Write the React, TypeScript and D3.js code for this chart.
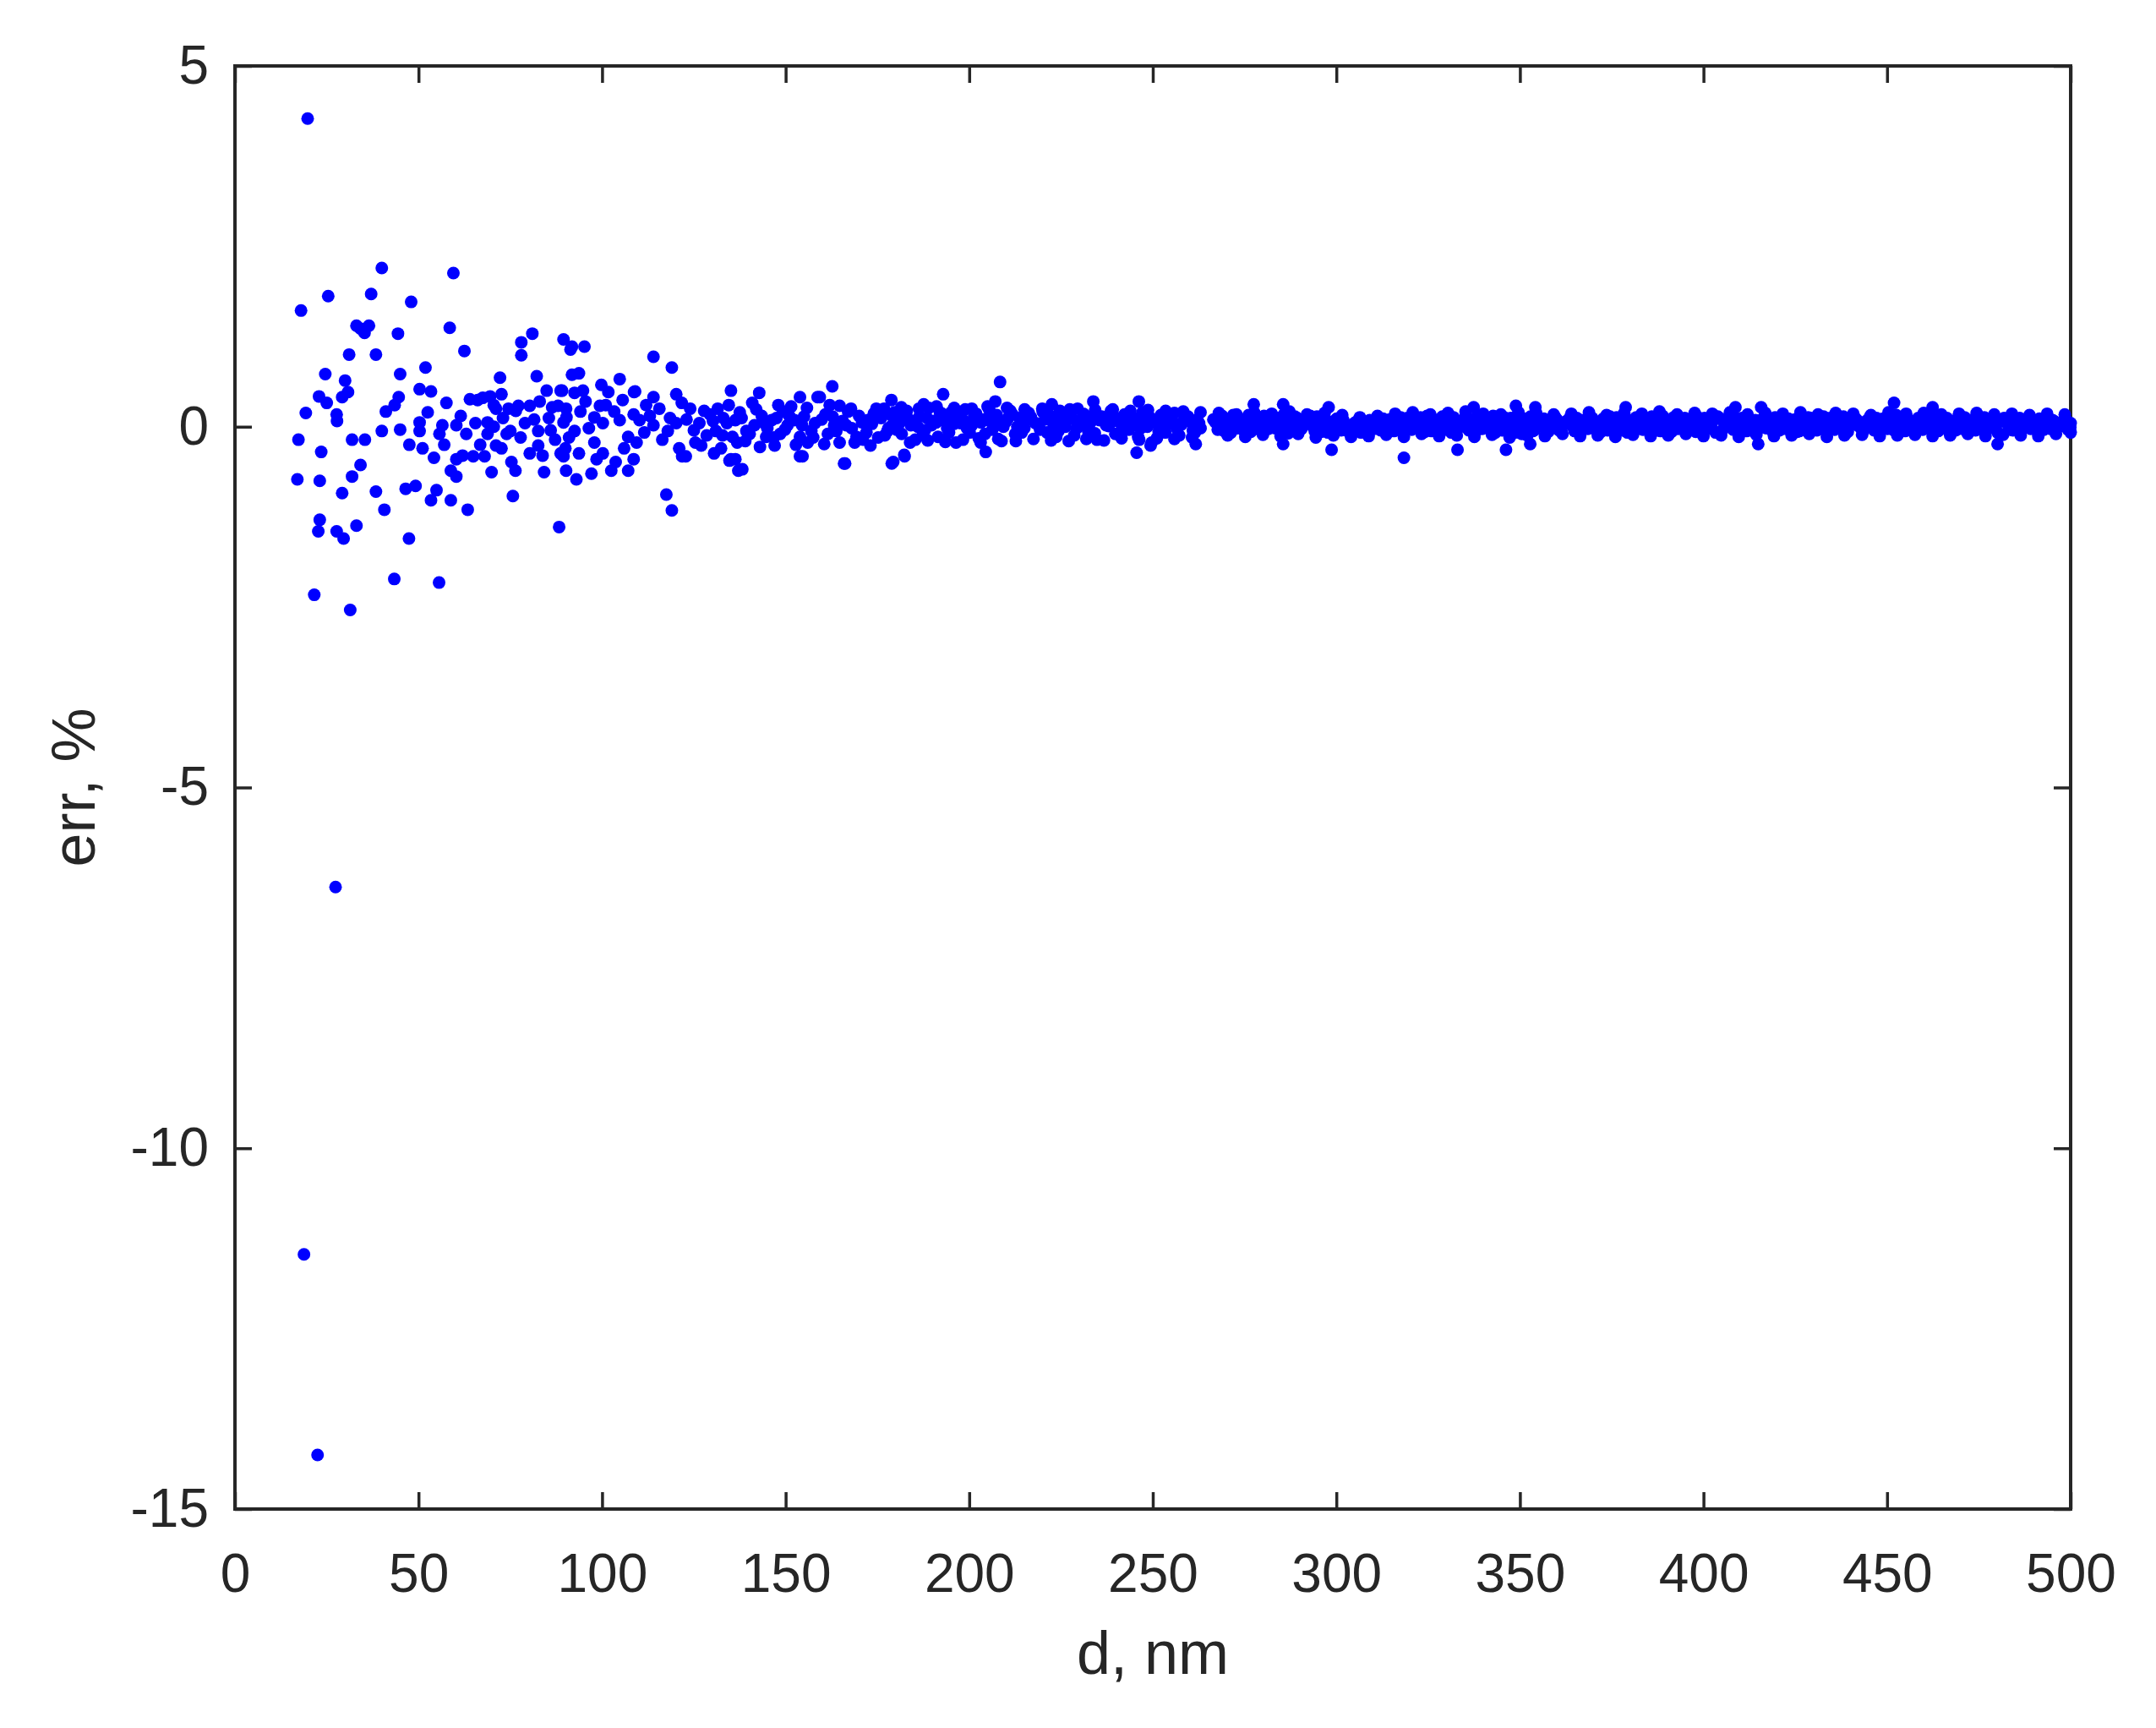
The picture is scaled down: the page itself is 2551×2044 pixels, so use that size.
import React, { useEffect, useRef } from 'react';
import * as d3 from 'd3';

// x ticks and y ticks
const xTicks = [0, 50, 100, 150, 200, 250, 300, 350, 400, 450, 500];
const yTicks = [-15, -10, -5, 0, 5];

// outliers and sparse points, d < 60 nm  [d, err]
const nearPoints: [number, number][] = [
  [19.8, 4.27], [18.8, -11.47], [22.5, -14.25], [27.4, -6.38],
  [40.0, 2.2], [59.5, 2.13], [25.4, 1.81], [37.1, 1.84], [18.0, 1.61], [48.0, 1.73],
  [33.1, 1.4], [36.5, 1.4], [35.3, 1.3], [34.2, 1.36], [44.4, 1.29], [58.5, 1.37],
  [31.1, 1.0], [38.4, 1.0], [24.6, 0.73], [30.0, 0.64], [45.0, 0.73], [51.9, 0.82],
  [29.2, 0.41], [25.0, 0.33], [27.7, 0.17], [19.3, 0.19], [44.6, 0.41], [41.1, 0.21], [43.5, 0.3],
  [50.3, 0.52], [53.4, 0.49], [57.6, 0.33], [17.3, -0.18], [23.5, -0.35], [31.9, -0.18], [35.4, -0.18],
  [40.0, -0.06], [45.0, -0.04], [50.3, 0.06], [50.3, -0.06], [55.7, -0.1], [60.3, 0.02], [51.1, -0.3], [54.2, -0.43],
  [34.2, -0.53], [31.9, -0.69], [17.0, -0.73], [23.1, -0.75], [22.9, 0.42], [27.8, 0.08], [30.8, 0.48],
  [29.2, -0.92], [38.4, -0.9], [46.5, -0.86], [49.2, -0.82], [54.9, -0.88], [53.4, -1.02], [58.8, -1.02],
  [40.7, -1.15], [23.1, -1.29], [22.7, -1.45], [27.7, -1.45], [29.6, -1.55], [33.1, -1.37], [47.4, -1.55],
  [43.4, -2.11], [55.6, -2.16], [21.6, -2.33], [31.4, -2.54],
  [56.5, 0.02], [52.5, 0.2], [47.5, -0.25], [57.0, -0.25],
];

// 60 - 130 nm
const midPoints: [number, number][] = [
  [62.5, 1.05], [81.0, 1.29], [78.0, 1.17], [78.0, 0.99], [89.5, 1.21], [91.4, 1.07],
  [72.2, 0.68], [72.6, 0.45], [66.1, 0.37], [82.2, 0.7], [84.9, 0.5], [88.7, 0.5],
  [77.2, 0.29], [80.3, 0.29], [86.4, 0.27], [71.1, 0.25], [68.8, 0.06], [68.8, -0.1],
  [71.1, -0.26], [75.0, -0.06], [82.6, -0.06], [82.6, -0.26], [87.2, -0.18], [89.5, 0.06],
  [88.0, 0.29], [90.3, 0.13], [91.8, 0.72], [64.0, 0.38], [67.5, 0.4], [69.5, 0.42], [70.5, 0.3],
  [70.5, 0.0], [74.0, -0.1], [62.0, -0.4], [79.0, 0.05], [85.5, 0.12], [83.0, 0.35], [76.5, 0.22],
  [60.3, -0.45], [64.9, -0.41], [68.0, -0.41], [58.8, -0.61], [60.3, -0.69], [69.9, -0.63],
  [72.6, -0.3], [75.3, -0.49], [76.4, -0.61], [80.3, -0.37], [84.2, -0.63], [88.7, -0.37], [90.2, -0.61],
  [63.4, -1.15], [75.7, -0.96], [88.3, -1.39],
  [91.8, 1.11], [95.2, 1.11], [114.0, 0.97], [119.0, 0.82], [93.7, 0.74],
  [104.8, 0.66], [99.8, 0.58], [101.7, 0.48], [89.1, 0.5], [92.5, 0.47], [94.8, 0.5],
  [108.7, 0.48], [114.0, 0.41], [120.2, 0.45], [109.0, 0.49],
  [89.5, -0.41], [93.7, -0.37], [97.1, -0.65], [93.0, -0.73], [102.5, -0.61], [107.1, -0.61],
  [103.7, -0.49], [108.6, -0.45], [97.9, -0.22], [100.2, -0.37], [122.8, -0.41], [127.0, -0.26],
  [117.5, -0.94], [119.0, -1.16], [121.8, -0.41],
  [90.2, 0.25], [94.1, 0.21], [97.9, 0.13], [92.5, -0.06], [96.4, -0.02], [90.0, -0.3],
  [99.4, 0.29], [103.3, 0.21], [105.6, 0.37], [100.2, 0.05], [104.8, 0.09], [108.6, 0.17],
  [107.1, -0.14], [109.4, -0.22], [110.2, 0.09], [114.0, 0.02], [117.9, -0.06], [120.2, 0.05],
  [115.6, 0.25], [121.7, 0.33], [124.0, 0.25], [116.4, -0.18], [121.0, -0.3], [125.4, -0.22],
  [129.4, 0.17], [126.5, 0.05], [112.0, 0.3],
  [61.5, 0.15], [63.0, -0.1], [65.5, 0.05], [66.8, -0.25], [73.0, 0.12], [74.5, 0.25], [77.8, -0.15],
  [81.5, 0.1], [83.8, -0.4], [86.0, -0.05], [91.0, -0.15], [95.5, 0.35], [98.5, -0.45], [101.0, 0.3],
  [106.0, -0.3], [111.5, -0.08], [113.0, 0.15], [118.5, 0.12], [123.0, 0.1], [125.0, -0.05],
  [127.8, 0.22], [128.5, -0.12],
];

// 130 - 180 nm
const spreadPoints: [number, number][] = [
  [135.1, 0.5], [142.8, 0.47], [162.7, 0.56], [158.7, 0.41],
  [130.5, -0.37], [134.7, -0.47], [138.2, -0.59], [153.9, -0.41], [166.2, -0.51], [178.9, -0.51], [135.1, -0.45],
  [134.0, 0.05], [131.0, -0.06], [135.5, -0.14], [136.3, 0.09], [139.3, -0.06], [140.9, 0.33],
  [144.7, -0.14], [146.2, 0.09], [149.3, 0.21], [152.4, 0.09], [153.9, 0.41], [153.9, -0.14], [157.0, -0.06],
  [159.3, 0.41], [160.8, 0.17], [163.2, 0.02], [164.7, 0.29], [167.0, 0.21], [164.7, -0.22], [169.3, -0.14],
  [172.4, 0.09], [174.7, 0.25], [178.5, 0.17], [173.1, -0.26], [177.7, -0.06], [136.3, -0.45], [137.1, -0.61],
  [147.0, -0.26], [132.4, -0.3], [131.5, 0.25], [133.0, 0.12], [137.5, 0.2], [139.0, -0.2], [141.5, 0.02],
  [143.5, 0.15], [145.0, -0.02], [147.5, 0.12], [148.5, -0.1], [150.5, 0.02], [151.5, 0.28], [155.0, 0.14],
  [156.0, -0.22], [158.0, 0.05], [161.5, -0.1], [162.0, 0.3], [165.5, 0.08], [168.0, -0.02], [170.0, 0.15],
  [171.0, -0.18], [173.5, 0.04], [176.0, 0.12], [177.0, -0.12], [179.0, 0.02], [178.8, 0.37], [154.6, -0.41],
  [165.9, -0.51],
  [130.2, 0.08], [132.8, -0.12], [134.5, 0.3], [136.8, -0.22], [138.0, 0.12], [140.2, -0.1], [142.0, 0.24],
  [143.0, -0.28], [144.2, 0.05], [146.8, -0.15], [148.0, 0.3], [149.8, -0.04], [151.0, 0.15], [152.8, -0.25],
  [154.5, 0.02], [155.8, 0.26], [157.5, -0.15], [159.8, 0.1], [160.5, -0.24], [162.8, 0.14], [163.8, -0.06],
  [166.5, 0.02], [167.8, 0.25], [168.8, -0.22], [170.8, 0.06], [172.0, -0.08], [174.0, 0.18], [175.2, -0.15],
  [176.8, 0.25], [178.0, -0.02], [179.6, 0.2],
];

// 180 - 265 nm
const innerBand: [number, number][] = [
  [208.4, 0.62], [192.9, 0.45], [179.3, -0.49], [182.3, -0.39], [245.6, -0.36], [207.1, 0.35], [246.2, 0.35],
  [233.8, 0.35], [222.5, 0.31], [187.6, 0.31], [204.5, -0.35], [182.4, -0.41],
  [180.5, 0.12], [181.6, -0.1], [183.0, 0.22], [184.1, 0.02], [185.3, -0.18], [186.5, 0.15], [187.9, -0.05],
  [189.0, 0.26], [190.2, 0.08], [191.5, -0.14], [192.6, 0.18], [194.0, -0.02], [195.1, 0.2], [196.4, -0.22],
  [197.6, 0.05], [198.9, 0.24], [200.1, -0.08], [201.3, 0.13], [202.6, -0.16], [203.8, 0.1], [205.0, 0.28],
  [206.3, -0.04], [207.5, 0.16], [208.8, -0.2], [210.0, 0.07], [211.2, 0.22], [212.5, -0.1], [213.7, 0.12],
  [215.0, -0.02], [216.2, 0.19], [217.5, -0.17], [218.7, 0.04], [220.0, 0.21], [221.2, -0.08], [222.4, 0.1],
  [223.7, -0.14], [224.9, 0.15], [226.2, 0.0], [227.4, 0.24], [228.6, -0.12], [229.9, 0.08], [231.1, 0.18],
  [232.4, -0.06], [233.6, 0.11], [234.8, -0.18], [236.1, 0.14], [237.3, 0.02], [238.6, 0.22], [239.8, -0.1],
  [241.0, 0.06], [242.3, 0.17], [243.5, -0.04], [244.8, 0.12], [246.0, -0.14], [247.2, 0.2], [248.5, 0.0],
  [249.7, -0.22], [251.0, 0.1], [252.2, 0.16], [253.4, -0.08], [254.7, 0.04], [255.9, 0.19], [257.2, -0.12],
  [258.4, 0.08], [259.6, 0.14], [260.9, -0.05], [262.1, 0.1], [263.0, -0.02],
  [181.0, 0.05], [183.6, 0.1], [186.0, 0.0], [188.5, 0.12], [191.0, 0.06], [193.4, 0.08], [195.8, 0.04],
  [198.2, 0.1], [200.7, 0.02], [203.2, 0.06], [205.7, 0.08], [208.1, 0.03], [210.6, 0.12], [213.1, 0.0],
  [215.6, 0.09], [218.0, 0.05], [220.6, 0.1], [223.0, 0.02], [225.5, 0.07], [228.0, 0.11], [230.5, 0.03],
  [233.0, 0.06], [235.5, 0.09], [238.0, 0.01], [240.4, 0.08], [243.0, 0.05], [245.4, 0.02], [247.9, 0.09],
  [250.4, 0.06], [253.0, 0.04], [255.3, 0.08], [257.8, 0.03], [260.3, 0.07], [262.6, 0.05],
  [249.4, -0.26], [261.7, -0.24],
  [180.2, -0.04], [182.7, 0.18], [185.0, 0.08], [187.3, -0.12], [189.7, 0.02], [192.0, 0.2], [194.5, -0.08],
  [196.9, 0.14], [199.4, -0.02], [201.9, 0.18], [204.3, -0.1], [206.8, 0.12], [209.3, 0.0], [211.8, 0.17],
  [214.3, -0.08], [216.8, 0.13], [219.3, -0.04], [221.8, 0.16], [224.3, -0.06], [226.8, 0.12], [229.3, -0.02],
  [231.8, 0.15], [234.2, -0.09], [236.7, 0.1], [239.2, 0.16], [241.7, -0.06], [244.2, 0.09], [246.7, -0.02],
  [249.1, 0.13], [251.6, -0.07], [254.1, 0.11], [256.6, -0.03], [259.0, 0.12], [261.5, -0.08],
];

// 180 - 265 nm, points along the upper and lower edge of the band
const innerEdges: [number, number][] = [
  [181.5, 0.27], [183.9, -0.22], [186.3, 0.25], [188.7, -0.19], [191.1, 0.28], [193.5, -0.21], [195.9, 0.26],
  [198.3, -0.18], [200.7, 0.25], [203.1, -0.22], [205.5, 0.23], [207.9, -0.17], [210.3, 0.26], [212.7, -0.2],
  [215.1, 0.24], [219.9, 0.25], [222.3, -0.19], [224.7, 0.22], [227.1, -0.2], [229.5, 0.25], [231.9, -0.17],
  [234.3, 0.23], [236.7, -0.19], [239.1, 0.24], [241.5, -0.16], [243.9, 0.22], [246.3, -0.18], [248.7, 0.23],
  [251.1, -0.16], [253.5, 0.22], [255.9, -0.17], [258.3, 0.21], [260.7, -0.15], [263.0, 0.2],
];

// 266 - 500 nm, first pass
const outerBand: [number, number][] = [
  [266.5, 0.1], [267.7, -0.04], [268.9, 0.15], [270.1, 0.02], [271.3, -0.08], [272.5, 0.12], [273.7, 0.05],
  [274.9, -0.06], [276.1, 0.16], [277.3, 0.03], [278.5, 0.11], [279.7, -0.07], [280.9, 0.08], [282.1, 0.14],
  [283.3, -0.02], [284.5, 0.06], [285.7, 0.17], [286.9, -0.09], [288.1, 0.04], [289.3, 0.12], [290.5, -0.03],
  [291.7, 0.09], [292.9, 0.15], [294.1, -0.06], [295.3, 0.02], [296.5, 0.13], [297.7, -0.08], [298.9, 0.07],
  [300.1, 0.11], [301.3, -0.05], [302.5, 0.03], [303.7, -0.09], [304.9, 0.05], [306.1, -0.02], [307.3, 0.06],
  [308.5, -0.07], [309.7, 0.02], [310.9, 0.08], [312.1, -0.05], [313.3, 0.04], [314.5, 0.1], [315.7, -0.06],
  [316.9, 0.07], [318.1, 0.01], [319.3, 0.12], [320.5, -0.04], [321.7, 0.06], [322.9, 0.13], [324.1, -0.07],
  [325.3, 0.03], [326.5, 0.09], [327.7, -0.02], [328.9, 0.14], [330.1, 0.05], [331.3, -0.08], [332.5, 0.08],
  [333.7, 0.0], [334.9, 0.12], [336.1, -0.05], [337.3, 0.07], [338.5, 0.15], [339.7, -0.03], [340.9, 0.04],
  [342.1, 0.11], [343.3, -0.08], [344.5, 0.06], [345.7, 0.13], [346.9, -0.06], [348.1, 0.02], [349.3, 0.16],
  [350.5, -0.1], [351.7, 0.08], [352.9, 0.14], [354.1, -0.04], [355.3, 0.05], [356.5, 0.11], [357.7, -0.07],
  [358.9, 0.03], [360.1, 0.1], [361.3, -0.02], [362.5, 0.07], [363.7, 0.13], [364.9, -0.06], [366.1, 0.04],
  [367.3, 0.09], [368.5, -0.03], [369.7, 0.12], [370.9, 0.01], [372.1, -0.07], [373.3, 0.08], [374.5, 0.14],
  [375.7, -0.04], [376.9, 0.05], [378.1, 0.11], [379.3, -0.08], [380.5, 0.06], [381.7, 0.13], [382.9, -0.02],
  [384.1, 0.03], [385.3, 0.1], [386.5, -0.06], [387.7, 0.07], [388.9, 0.15], [390.1, 0.0], [391.3, -0.07],
  [392.5, 0.09], [393.7, 0.04], [394.9, 0.12], [396.1, -0.05], [397.3, 0.06], [398.5, 0.13], [399.7, -0.03],
  [400.9, 0.08], [402.1, 0.02], [403.3, -0.08], [404.5, 0.11], [405.7, 0.05], [406.9, 0.14], [408.1, -0.04],
  [409.3, 0.07], [410.5, 0.12], [411.7, -0.06], [412.9, 0.03], [414.1, 0.09], [415.3, -0.02], [416.5, 0.13],
  [417.7, 0.04], [418.9, -0.07], [420.1, 0.08], [421.3, 0.15], [422.5, -0.03], [423.7, 0.05], [424.9, 0.1],
  [426.1, -0.06], [427.3, 0.07], [428.5, 0.13], [429.7, 0.0], [430.9, -0.05], [432.1, 0.09], [433.3, 0.04],
  [434.5, 0.12], [435.7, -0.04], [436.9, 0.06], [438.1, 0.14], [439.3, -0.07], [440.5, 0.03], [441.7, 0.1],
  [442.9, -0.02], [444.1, 0.07], [445.3, 0.13], [446.5, -0.05], [447.7, 0.04], [448.9, 0.11], [450.1, -0.03],
  [451.3, 0.08], [452.5, 0.16], [453.7, 0.01], [454.9, -0.06], [456.1, 0.09], [457.3, 0.05], [458.5, 0.12],
  [459.7, -0.04], [460.9, 0.07], [462.1, 0.14], [463.3, -0.02], [464.5, 0.03], [465.7, 0.1], [466.9, -0.07],
  [468.1, 0.06], [469.3, 0.12], [470.5, -0.03], [471.7, 0.04], [472.9, 0.09], [474.1, -0.05], [475.3, 0.07],
  [476.5, 0.13], [477.7, -0.01], [478.9, 0.05], [480.1, -0.08], [481.3, 0.08], [482.5, 0.11], [483.7, -0.04],
  [484.9, 0.06], [486.1, 0.12], [487.3, -0.02], [488.5, 0.03], [489.7, 0.09], [490.9, -0.06], [492.1, 0.05],
  [493.3, 0.1], [494.5, -0.03], [495.7, 0.07], [496.9, 0.01], [498.1, 0.08], [499.3, -0.04], [500.0, 0.05],
  // stray points above / below the band
  [285.5, -0.24], [298.7, -0.32], [318.4, -0.43], [333.0, -0.32], [346.2, -0.32], [352.8, -0.24],
  [414.9, -0.24], [480.1, -0.24], [277.5, 0.31], [285.5, 0.31], [297.9, 0.27], [337.4, 0.27], [348.9, 0.29],
  [354.2, 0.27], [378.8, 0.27], [408.7, 0.27], [415.7, 0.27], [451.9, 0.33], [462.4, 0.27],
];

// 266 - 500 nm, second pass
const outerBandB: [number, number][] = [
  [267.1, 0.06], [268.3, 0.13], [269.5, -0.06], [270.7, 0.09], [271.9, 0.16], [273.1, -0.02], [274.3, 0.1],
  [275.5, 0.04], [276.7, -0.07], [277.9, 0.12], [279.1, 0.05], [280.3, 0.15], [281.5, -0.03], [282.7, 0.07],
  [283.9, 0.12], [285.1, -0.06], [286.3, 0.09], [287.5, 0.02], [288.7, 0.14], [289.9, -0.05], [291.1, 0.06],
  [292.3, 0.11], [293.5, 0.01], [294.7, 0.14], [295.9, -0.07], [297.1, 0.08], [298.3, 0.03], [299.5, -0.04],
  [300.7, 0.06], [301.9, 0.09], [303.1, -0.06], [304.3, 0.01], [305.5, 0.07], [306.7, -0.08], [307.9, 0.03],
  [309.1, 0.09], [310.3, -0.03], [311.5, 0.05], [312.7, 0.11], [313.9, -0.07], [315.1, 0.06], [316.3, 0.02],
  [317.5, 0.13], [318.7, -0.05], [319.9, 0.04], [321.1, 0.1], [322.3, -0.02], [323.5, 0.08], [324.7, 0.15],
  [325.9, -0.06], [327.1, 0.05], [328.3, 0.11], [329.5, -0.04], [330.7, 0.09], [331.9, 0.13], [333.1, -0.02],
  [334.3, 0.06], [335.5, 0.14], [336.7, 0.01], [337.9, -0.07], [339.1, 0.1], [340.3, 0.06], [341.5, -0.03],
  [342.7, 0.15], [343.9, 0.04], [345.1, -0.05], [346.3, 0.09], [347.5, 0.12], [348.7, -0.08], [349.9, 0.05],
  [351.1, 0.11], [352.3, 0.02], [353.5, -0.06], [354.7, 0.13], [355.9, 0.06], [357.1, -0.02], [358.3, 0.1],
  [359.5, 0.14], [360.7, -0.05], [361.9, 0.04], [363.1, 0.09], [364.3, 0.01], [365.5, 0.12], [366.7, -0.06],
  [367.9, 0.07], [369.1, 0.14], [370.3, -0.03], [371.5, 0.05], [372.7, 0.11], [373.9, -0.05], [375.1, 0.08],
  [376.3, 0.13], [377.5, 0.0], [378.7, -0.06], [379.9, 0.09], [381.1, 0.04], [382.3, 0.12], [383.5, -0.04],
  [384.7, 0.07], [385.9, 0.14], [387.1, 0.02], [388.3, -0.06], [389.5, 0.1], [390.7, 0.06], [391.9, 0.13],
  [393.1, -0.03], [394.3, 0.08], [395.5, 0.02], [396.7, 0.11], [397.9, -0.07], [399.1, 0.05], [400.3, 0.12],
  [401.5, -0.02], [402.7, 0.09], [403.9, 0.14], [405.1, -0.05], [406.3, 0.03], [407.5, 0.08], [408.7, 0.12],
  [409.9, -0.03], [411.1, 0.06], [412.3, 0.11], [413.5, -0.06], [414.7, 0.04], [415.9, 0.1], [417.1, -0.02],
  [418.3, 0.07], [419.5, 0.13], [420.7, -0.05], [421.9, 0.05], [423.1, 0.11], [424.3, 0.02], [425.5, -0.07],
  [426.7, 0.09], [427.9, 0.04], [429.1, 0.12], [430.3, -0.03], [431.5, 0.06], [432.7, 0.14], [433.9, -0.05],
  [435.1, 0.08], [436.3, 0.02], [437.5, 0.11], [438.7, -0.04], [439.9, 0.07], [441.1, 0.13], [442.3, 0.01],
  [443.5, -0.06], [444.7, 0.09], [445.9, 0.05], [447.1, 0.12], [448.3, -0.03], [449.5, 0.06], [450.7, 0.1],
  [451.9, -0.05], [453.1, 0.07], [454.3, 0.13], [455.5, 0.02], [456.7, -0.04], [457.9, 0.08], [459.1, 0.11],
  [460.3, -0.02], [461.5, 0.05], [462.7, 0.09], [463.9, -0.06], [465.1, 0.07], [466.3, 0.12], [467.5, 0.01],
  [468.7, -0.05], [469.9, 0.08], [471.1, 0.13], [472.3, -0.02], [473.5, 0.06], [474.7, 0.11], [475.9, -0.04],
  [477.1, 0.05], [478.3, 0.09], [479.5, -0.03], [480.7, 0.07], [481.9, 0.12], [483.1, 0.0], [484.3, -0.05],
  [485.5, 0.08], [486.7, 0.04], [487.9, 0.1], [489.1, -0.03], [490.3, 0.06], [491.5, 0.11], [492.7, -0.04],
  [493.9, 0.05], [495.1, 0.09], [496.3, -0.02], [497.5, 0.06], [498.7, 0.1], [499.9, -0.01],
];

// 266 - 500 nm, points along the upper and lower edge of the band
const outerEdges: [number, number][] = [
  [268.0, 0.19], [270.4, -0.12], [272.8, 0.17], [275.2, -0.14], [277.6, 0.2], [280.0, -0.11], [282.4, 0.18],
  [284.8, -0.13], [287.2, 0.21], [289.6, -0.1], [292.0, 0.17], [294.4, -0.15], [296.8, 0.19], [299.2, -0.12],
  [301.6, 0.16], [304.0, -0.14], [306.4, 0.13], [308.8, -0.13], [311.2, 0.15], [313.6, -0.11], [316.0, 0.18],
  [318.4, -0.14], [320.8, 0.2], [323.2, -0.1], [325.6, 0.17], [328.0, -0.13], [330.4, 0.19], [332.8, -0.12],
  [335.2, 0.21], [337.6, -0.14], [340.0, 0.18], [342.4, -0.11], [344.8, 0.17], [347.2, -0.15], [349.6, 0.2],
  [352.0, -0.12], [354.4, 0.19], [356.8, -0.13], [359.2, 0.17], [361.6, -0.1], [364.0, 0.18], [366.4, -0.13],
  [368.8, 0.2], [371.2, -0.12], [373.6, 0.16], [376.0, -0.14], [378.4, 0.19], [380.8, -0.11], [383.2, 0.18],
  [385.6, -0.13], [388.0, 0.21], [390.4, -0.12], [392.8, 0.17], [395.2, -0.1], [397.6, 0.19], [400.0, -0.13],
  [402.4, 0.18], [404.8, -0.12], [407.2, 0.2], [409.6, -0.14], [412.0, 0.17], [414.4, -0.11], [416.8, 0.19],
  [419.2, -0.13], [421.6, 0.18], [424.0, -0.12], [426.4, 0.2], [428.8, -0.1], [431.2, 0.17], [433.6, -0.14],
  [436.0, 0.19], [438.4, -0.12], [440.8, 0.18], [443.2, -0.11], [445.6, 0.16], [448.0, -0.13], [450.4, 0.2],
  [452.8, -0.12], [455.2, 0.18], [457.6, -0.11], [460.0, 0.19], [462.4, -0.13], [464.8, 0.17], [467.2, -0.12],
  [469.6, 0.18], [472.0, -0.1], [474.4, 0.19], [476.8, -0.13], [479.2, 0.17], [481.6, -0.11], [484.0, 0.18],
  [486.4, -0.12], [488.8, 0.16], [491.2, -0.13], [493.6, 0.18], [496.0, -0.1], [498.4, 0.17], [500.0, -0.08],
];

const App = () => {
  const svgRef = useRef<SVGSVGElement>(null);

  useEffect(() => {
    const width = 2551;
    const height = 2044;
    const margin = { top: 78, right: 101, bottom: 259, left: 278 };
    const axisColor = '#262626';
    const font = '"Liberation Sans", Arial, sans-serif';

    d3.select(svgRef.current).selectAll('*').remove();
    const svg = d3.select(svgRef.current)
      .attr('width', width)
      .attr('height', height);

    svg.append('rect').attr('width', width).attr('height', height).attr('fill', '#fff');

    const x = d3.scaleLinear().domain([0, 500]).range([margin.left, width - margin.right]);
    const y = d3.scaleLinear().domain([-15, 5]).range([height - margin.bottom, margin.top]);

    // axes: ticks pointing inward on all four sides
    const styleAxis = (g: any, labels: boolean) => {
      g.select('.domain').remove();
      g.selectAll('line').attr('stroke', axisColor).attr('stroke-width', 3.5);
      g.selectAll('text')
        .attr('fill', axisColor)
        .style('font-family', font)
        .style('font-size', '64px');
      if (!labels) g.selectAll('text').remove();
    };
    const plain = (d: any) => `${d}`;

    svg.append('g')
      .attr('transform', `translate(0,${y(-15)})`)
      .call(d3.axisBottom(x).tickValues(xTicks).tickSize(-20).tickPadding(53).tickFormat(plain))
      .call((g: any) => styleAxis(g, true));

    svg.append('g')
      .attr('transform', `translate(0,${y(5)})`)
      .call(d3.axisTop(x).tickValues(xTicks).tickSize(-20))
      .call((g: any) => styleAxis(g, false));

    svg.append('g')
      .attr('transform', `translate(${x(0)},0)`)
      .call(d3.axisLeft(y).tickValues(yTicks).tickSize(-20).tickPadding(31).tickFormat(plain))
      .call((g: any) => styleAxis(g, true));

    svg.append('g')
      .attr('transform', `translate(${x(500)},0)`)
      .call(d3.axisRight(y).tickValues(yTicks).tickSize(-20))
      .call((g: any) => styleAxis(g, false));

    // the box
    svg.append('rect')
      .attr('x', x(0))
      .attr('y', y(5))
      .attr('width', x(500) - x(0))
      .attr('height', y(-15) - y(5))
      .attr('fill', 'none')
      .attr('stroke', axisColor)
      .attr('stroke-width', 4);

    // points
    const all = [
      ...nearPoints, ...midPoints, ...spreadPoints, ...innerBand, ...innerEdges,
      ...outerBand, ...outerBandB, ...outerEdges,
    ];
    svg.append('g')
      .selectAll('circle')
      .data(all)
      .enter().append('circle')
      .attr('cx', d => x(d[0]))
      .attr('cy', d => y(d[1]))
      .attr('r', 7.5)
      .attr('fill', '#0000ff');

    // axis labels
    svg.append('text')
      .attr('x', (x(0) + x(500)) / 2)
      .attr('y', 1980)
      .attr('text-anchor', 'middle')
      .attr('fill', axisColor)
      .style('font-family', font)
      .style('font-size', '72px')
      .text('d, nm');

    svg.append('text')
      .attr('transform', `translate(112,${(y(5) + y(-15)) / 2}) rotate(-90)`)
      .attr('text-anchor', 'middle')
      .attr('fill', axisColor)
      .style('font-family', font)
      .style('font-size', '72px')
      .text('err, %');
  }, []);

  return (
    <div style={{ position: 'absolute', left: 0, top: 0 }}>
      <svg ref={svgRef}></svg>
    </div>
  );
};

export default App;
